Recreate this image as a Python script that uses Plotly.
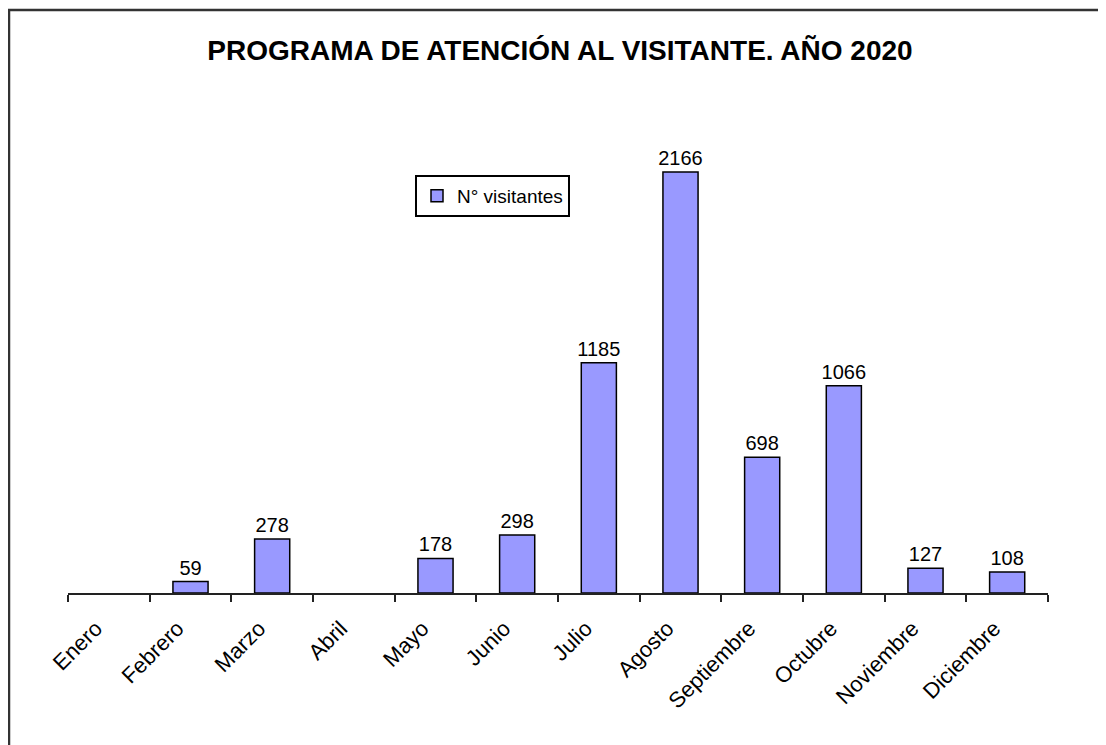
import plotly.graph_objects as go

months = ["Enero", "Febrero", "Marzo", "Abril", "Mayo", "Junio", "Julio",
          "Agosto", "Septiembre", "Octubre", "Noviembre", "Diciembre"]
visitantes = [None, 59, 278, None, 178, 298, 1185, 2166, 698, 1066, 127, 108]
series_name = "N° visitantes"
title_text = "PROGRAMA DE ATENCIÓN AL VISITANTE. AÑO 2020"

# the page body adds an 8px offset; work in page pixels and shift
OFF = 8
W, H = 1106 - OFF, 745 - OFF
L, R, T, B = 68 - OFF, 58, 107 - OFF, 152
pw, ph = W - L - R, H - T - B

def px_x(x):
    return (x - OFF - L) / pw

def px_y(y):
    return (H - B - (y - OFF)) / ph

fig = go.Figure()
fig.add_trace(go.Bar(
    x=months, y=visitantes, name=series_name,
    marker=dict(color="#9999FF", line=dict(color="#000000", width=1.5)),
    width=0.43,
    texttemplate="%{y}", textposition="outside", constraintext="none",
    textfont=dict(size=20, color="#000000", family="Liberation Sans, Arial"),
    cliponaxis=False, showlegend=True,
))

fig.update_layout(
    width=W, height=H,
    margin=dict(l=L, r=R, t=T, b=B),
    paper_bgcolor="white", plot_bgcolor="white",
    font=dict(family="Liberation Sans, Arial", color="#000000"),
    title=dict(text="<b>" + title_text + "</b>", x=(560 - OFF) / W, xanchor="center",
               y=1 - (50 - OFF) / H, yanchor="middle", font=dict(size=28, color="#000000")),
    xaxis=dict(
        showline=True, linecolor="#222222", linewidth=2,
        ticks="outside", ticklen=7, tickwidth=2, tickcolor="#222222",
        tickson="boundaries", tickangle=-45,
        tickfont=dict(size=22, color="#000000"),
        ticklabelstandoff=12, ticklabelshift=-13,
        showgrid=False, zeroline=False,
    ),
    yaxis=dict(visible=False, range=[0, 2500]),
    legend=dict(x=px_x(415), y=px_y(175), xanchor="left", yanchor="top",
                bordercolor="#000000", borderwidth=2, bgcolor="white",
                font=dict(size=19, color="#000000")),
    shapes=[
        dict(type="line", xref="paper", yref="paper",
             x0=px_x(9), x1=px_x(9), y0=px_y(760), y1=px_y(10),
             line=dict(color="#333333", width=2.5)),
        dict(type="line", xref="paper", yref="paper",
             x0=px_x(8), x1=px_x(1120), y0=px_y(10), y1=px_y(10),
             line=dict(color="#333333", width=2.5)),
    ],
)

fig.write_html("out.html")
